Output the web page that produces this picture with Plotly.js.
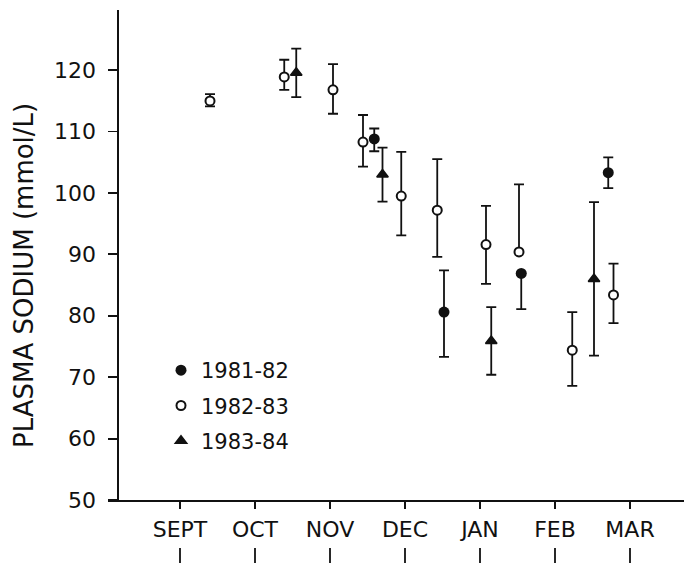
<!DOCTYPE html>
<html>
<head>
<meta charset="utf-8">
<script src="https://cdn.plot.ly/plotly-3.0.1.min.js"></script>
<style>html,body{margin:0;padding:0;background:#fff;}#chart{width:684px;height:563px;}</style>
</head>
<body>
<div id="chart"></div>
<script>
// Month ticks (index 0 = SEPT)
var monthPos = [0, 1, 2, 3, 4, 5, 6];
var monthLabels = ['SEPT', 'OCT', 'NOV', 'DEC', 'JAN', 'FEB', 'MAR'];
var yTicks = [50, 60, 70, 80, 90, 100, 110, 120];
var yTitle = 'PLASMA SODIUM (mmol/L)';

// 1981-82 (filled circles)
var x8182 = [2.59, 3.52, 4.55, 5.71];
var y8182 = [108.8, 80.6, 86.9, 103.3];
var up8182 = [1.7, 6.8, 0, 2.5];
var dn8182 = [2.0, 7.3, 5.8, 2.5];

// 1982-83 (open circles)
var x8283 = [0.40, 1.39, 2.04, 2.44, 2.95, 3.43, 4.08, 4.52, 5.23, 5.78];
var y8283 = [115.0, 118.9, 116.8, 108.3, 99.5, 97.2, 91.6, 90.4, 74.4, 83.4];
var up8283 = [1.1, 2.8, 4.2, 4.4, 7.2, 8.3, 6.3, 11.0, 6.2, 5.1];
var dn8283 = [0.9, 2.1, 3.9, 4.0, 6.4, 7.6, 6.4, 0, 5.8, 4.6];

// 1983-84 (filled triangles)
var x8384 = [1.55, 2.70, 4.15, 5.52];
var y8384 = [119.6, 103.0, 75.9, 86.0];
var up8384 = [3.9, 4.4, 5.5, 12.5];
var dn8384 = [4.0, 4.4, 5.5, 12.5];

var ink = '#111';
var fam = 'DejaVu Sans, Liberation Sans, Arial, sans-serif';
function err(up, dn) {
  return {type: 'data', symmetric: false, array: up, arrayminus: dn,
          color: ink, thickness: 1.8, width: 5};
}

var traces = [
  {x: x8182, y: y8182, name: '1981-82', type: 'scatter', mode: 'markers',
   legendgroup: 'a',
   marker: {symbol: 'circle', size: 11, color: ink, line: {color: ink, width: 0}},
   error_y: err(up8182, dn8182)},
  {x: x8283, y: y8283, name: '1982-83', type: 'scatter', mode: 'markers',
   legendgroup: 'b',
   marker: {symbol: 'circle', size: 9, color: '#fff', line: {color: ink, width: 2}},
   error_y: err(up8283, dn8283)},
  {x: x8384, y: y8384, name: '1983-84', type: 'scatter', mode: 'markers',
   legendgroup: 'c',
   marker: {symbol: 'triangle-up', size: 10, color: ink, line: {color: ink, width: 1.5}},
   error_y: err(up8384, dn8384)}
];

var plotL = 108, plotW = 576, plotT = 10, plotH = 490;
var shapes = monthPos.map(function (m) {
  return {type: 'line', xref: 'x', yref: 'paper', ysizemode: 'pixel', yanchor: 0,
          x0: m, x1: m, y0: -48, y1: -64, line: {color: ink, width: 1.8}};
});

var layout = {
  width: 684, height: 563,
  paper_bgcolor: '#fff', plot_bgcolor: '#fff',
  margin: {l: plotL, r: 0, t: plotT, b: 63},
  font: {family: fam, color: ink},
  showlegend: true,
  legend: {x: (161 - plotL) / plotW, y: 0.306, xanchor: 'left', yanchor: 'top',
           font: {size: 21, color: ink, family: fam}, bgcolor: 'rgba(0,0,0,0)',
           tracegroupgap: 5, traceorder: 'grouped'},
  xaxis: {
    range: [-0.96, 6.72], tickmode: 'array', tickvals: monthPos, ticktext: monthLabels,
    ticks: 'outside', ticklen: 7, tickwidth: 1.8, tickcolor: ink,
    showline: true, linecolor: ink, linewidth: 2, showgrid: false, zeroline: false,
    tickfont: {size: 22, color: ink, family: fam}, ticklabelstandoff: 2, fixedrange: true
  },
  yaxis: {
    range: [50, 129.8], tickmode: 'array', tickvals: yTicks,
    anchor: 'free', position: (118.3 - plotL) / plotW,
    ticks: 'outside', ticklen: 9, tickwidth: 1.8, tickcolor: ink,
    showline: true, linecolor: ink, linewidth: 2, showgrid: false, zeroline: false,
    tickfont: {size: 22, color: ink, family: fam}, ticklabelstandoff: 8,
    fixedrange: true
  },
  annotations: [{
    text: yTitle, textangle: -90, showarrow: false,
    xref: 'paper', yref: 'paper',
    x: (24 - plotL) / plotW, y: (500 - 276) / plotH,
    xanchor: 'center', yanchor: 'middle',
    font: {size: 26, color: ink, family: fam}
  }],
  shapes: shapes
};

Plotly.newPlot('chart', traces, layout, {displayModeBar: false, staticPlot: true});
</script>
</body>
</html>
